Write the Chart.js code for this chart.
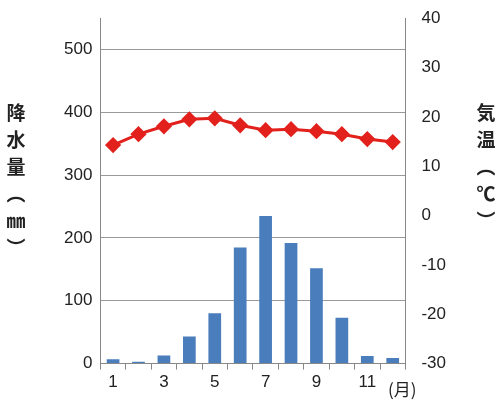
<!DOCTYPE html><html><head><meta charset="utf-8">
<script src="https://cdn.jsdelivr.net/npm/chart.js@4"></script>
<style>body{margin:0;background:#fff;font-family:"Noto Sans CJK JP";}
#w{position:relative;width:500px;height:414px}
.t{position:absolute;font-size:19px;color:#222;line-height:27px;text-align:center;width:24px;font-weight:bold}
</style></head><body><div id="w"><canvas id="c" width="500" height="414"></canvas>
<div class="t" style="left:4px;top:98px">降<br>水<br>量<br>︵<br>㎜<br>︶</div>
<div class="t" style="left:474px;top:98px">気<br>温<br>︵<br>℃<br>︶</div>
<div style="position:absolute;left:388px;top:376px;font-size:17px;color:#222">(月)</div>
</div>
<script>
const months=['1','2','3','4','5','6','7','8','9','10','11','12'];
const precip=[7,3,13,43,80,185,235,192,152,73,12,9];
const temp=[14.3,16.5,18.1,19.5,19.7,18.3,17.3,17.5,17.1,16.5,15.5,14.9];
new Chart(document.getElementById('c'),{data:{labels:months,datasets:[
{type:'line',data:temp,yAxisID:'y2',borderColor:'#e3211c',backgroundColor:'#e3211c',borderWidth:3,pointStyle:'rectRot',pointRadius:6,order:0},
{type:'bar',data:precip,yAxisID:'y',backgroundColor:'#4a7dbb',categoryPercentage:1,barPercentage:0.5,order:1}]},
options:{responsive:false,animation:false,layout:{padding:{left:56,right:46,top:0,bottom:18}},
plugins:{legend:{display:false},tooltip:{enabled:false}},
scales:{x:{grid:{display:true,drawOnChartArea:false,drawTicks:true,tickLength:6,color:'#888',offset:true},border:{color:'#888'},ticks:{color:'#222',font:{size:17},maxRotation:0,autoSkip:false,callback:(v,i)=>i%2==0?months[i]:''}},
y:{position:'left',min:0,max:550,afterBuildTicks:a=>{a.ticks=[0,100,200,300,400,500].map(v=>({value:v}))},grid:{color:'#999',drawTicks:false},border:{color:'#888'},ticks:{color:'#222',font:{size:17},padding:8}},
y2:{position:'right',min:-30,max:40,ticks:{stepSize:10,color:'#222',font:{size:17},padding:8},grid:{display:false},border:{color:'#888'}}}}});
</script></body></html>
